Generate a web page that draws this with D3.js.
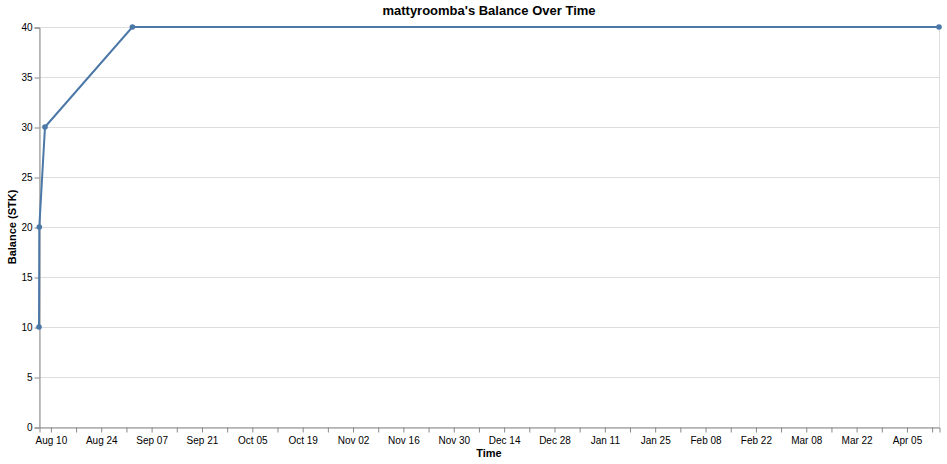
<!DOCTYPE html>
<html>
<head>
<meta charset="utf-8">
<script src="https://cdn.jsdelivr.net/npm/d3@7"></script>
<style>
  body { margin: 0; background: #fff; }
  text { font-family: "Liberation Sans", Arial, sans-serif; }
</style>
</head>
<body>
<div id="chart"></div>
<script>
// balance history
const times = ["2025-08-06T20:00", "2025-08-06T22:00", "2025-08-08T12:00", "2025-09-01T19:00", "2026-04-14T01:00"];
const balances = [10, 20, 30, 40, 40];
const yTicks = [0, 5, 10, 15, 20, 25, 30, 35, 40];

const parse = d3.timeParse("%Y-%m-%dT%H:%M");
const data = times.map((t, i) => ({ time: parse(t), balance: balances[i] }));

const width = 947, height = 464;
const margin = { top: 27, right: 8, bottom: 37, left: 39 };
const w = width - margin.left - margin.right;
const h = height - margin.top - margin.bottom;

const svg = d3.select("#chart")
    .append("svg")
    .attr("width", width)
    .attr("height", height);

const g = svg.append("g")
    .attr("transform", `translate(${margin.left},${margin.top})`);

const x = d3.scaleTime()
    .domain(d3.extent(data, d => d.time))
    .range([0, w]);

const y = d3.scaleLinear()
    .domain([0, 40])
    .range([h, 0]);

// grid lines
g.append("g")
    .selectAll("line")
    .data(yTicks)
    .enter().append("line")
    .attr("x1", 0)
    .attr("x2", w)
    .attr("y1", d => y(d) + 0.5)
    .attr("y2", d => y(d) + 0.5)
    .attr("stroke", "#ddd");

// view border
g.append("rect")
    .attr("x", 0.5)
    .attr("y", 0.5)
    .attr("width", w)
    .attr("height", h)
    .attr("fill", "none")
    .attr("stroke", "#ddd");

// x axis: weekly ticks, every other labelled
const fmt = d3.timeFormat("%b %d");
const xAxis = g.append("g")
    .attr("transform", `translate(0.5,${h + 0.5})`)
    .call(d3.axisBottom(x)
        .ticks(d3.timeWeek.every(1))
        .tickSize(5)
        .tickPadding(3)
        .tickFormat((d, i) => i % 2 === 0 ? fmt(d) : ""));

// y axis
const yAxis = g.append("g")
    .attr("transform", "translate(0.5,0.5)")
    .call(d3.axisLeft(y)
        .tickValues(yTicks)
        .tickSize(5)
        .tickPadding(2));

[xAxis, yAxis].forEach(a => {
    a.select(".domain").attr("stroke", "#888");
    a.selectAll(".tick line").attr("stroke", "#888");
    a.selectAll(".tick text")
        .attr("font-size", "10px")
        .attr("fill", "#000")
        .style("font-family", "Liberation Sans, Arial, sans-serif");
});
xAxis.selectAll(".tick text").attr("dy", "0.85em");

// line
const line = d3.line()
    .x(d => x(d.time))
    .y(d => y(d.balance));

g.append("path")
    .datum(data)
    .attr("fill", "none")
    .attr("stroke", "#4c78a8")
    .attr("stroke-width", 2)
    .attr("d", line);

g.append("g")
    .selectAll("circle")
    .data(data)
    .enter().append("circle")
    .attr("cx", d => x(d.time))
    .attr("cy", d => y(d.balance))
    .attr("r", 2.8)
    .attr("fill", "#4c78a8");

// titles
svg.append("text")
    .attr("x", margin.left + w / 2)
    .attr("y", 15)
    .attr("text-anchor", "middle")
    .attr("font-size", "13px")
    .attr("font-weight", "bold")
    .text("mattyroomba's Balance Over Time");

svg.append("text")
    .attr("x", margin.left + w / 2)
    .attr("y", 457)
    .attr("text-anchor", "middle")
    .attr("font-size", "11px")
    .attr("font-weight", "bold")
    .text("Time");

svg.append("text")
    .attr("transform", `translate(16,${margin.top + h / 2}) rotate(-90)`)
    .attr("text-anchor", "middle")
    .attr("font-size", "11px")
    .attr("font-weight", "bold")
    .text("Balance (STK)");
</script>
</body>
</html>
